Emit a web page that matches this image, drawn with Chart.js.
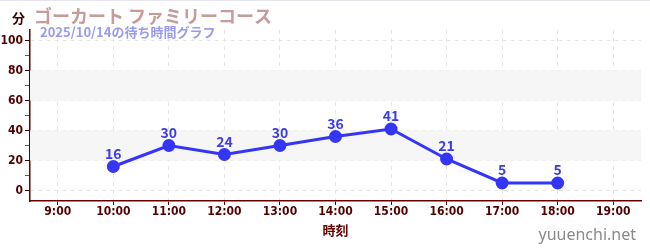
<!DOCTYPE html>
<html>
<head>
<meta charset="utf-8">
<script src="https://cdn.jsdelivr.net/npm/chart.js@4"></script>
<style>
  body { margin: 0; background: #fff; }
  #wrap { width: 650px; height: 250px; position: relative; border-top: 1px solid #e4e4f4; box-sizing: border-box; }
</style>
</head>
<body>
<div id="wrap"><canvas id="myChart"></canvas></div>
<script>
// Wait times (minutes) by hour of day
const hours = [10, 11, 12, 13, 14, 15, 16, 17, 18];
const waits = [16, 30, 24, 30, 36, 41, 21, 5, 5];
const hourTicks = [9, 10, 11, 12, 13, 14, 15, 16, 17, 18, 19];
const minuteTicks = [0, 10, 20, 30, 40, 50, 60, 70, 80, 90, 100];
const bands = [[20, 40], [60, 80]];
const chartTitle = 'ゴーカート ファミリーコース';
const chartSubtitle = '2025/10/14の待ち時間グラフ';
const yTitle = '分';
const xTitle = '時刻';
const watermark = 'yuuenchi.net';

const axisColor = '#660000';
const tickFont = { family: "'Liberation Sans Narrow', 'DejaVu Sans Condensed', sans-serif", size: 12, weight: 'bold' };

// light bands behind the line
const bandPlugin = {
    id: 'bands',
    beforeDatasetsDraw(chart) {
        const { ctx, chartArea, scales } = chart;
        ctx.save();
        ctx.fillStyle = '#f6f6f6';
        bands.forEach(b => {
            const y1 = scales.y.getPixelForValue(b[1]);
            const y0 = scales.y.getPixelForValue(b[0]);
            ctx.fillRect(chartArea.left, y1, chartArea.right - chartArea.left, y0 - y1);
        });
        ctx.restore();
    }
};

// titles, value labels and watermark
const textPlugin = {
    id: 'texts',
    afterDatasetsDraw(chart) {
        const ctx = chart.ctx;
        const meta = chart.getDatasetMeta(0);
        ctx.save();
        ctx.font = "bold 14px 'Noto Sans CJK JP', sans-serif";
        ctx.fillStyle = '#3d3de8';
        ctx.textAlign = 'center';
        ctx.textBaseline = 'bottom';
        meta.data.forEach((pt, i) => {
            ctx.fillText(waits[i], pt.x, pt.y - 6);
        });
        ctx.restore();
    },
    afterDraw(chart) {
        const ctx = chart.ctx;
        ctx.save();
        ctx.textBaseline = 'alphabetic';
        ctx.textAlign = 'left';
        ctx.font = "bold 13px 'Noto Sans CJK JP', sans-serif";
        ctx.fillStyle = '#440000';
        ctx.fillText(yTitle, 12, 22);
        ctx.font = "bold 18px 'Noto Sans CJK JP', sans-serif";
        ctx.fillStyle = '#c89a9a';
        ctx.fillText(chartTitle, 34, 22);
        ctx.font = "bold 13px 'Noto Sans CJK JP', sans-serif";
        ctx.fillStyle = '#9a9af2';
        ctx.fillText(chartSubtitle, 40, 36);
        ctx.font = "bold 13px 'Noto Sans CJK JP', sans-serif";
        ctx.fillStyle = axisColor;
        ctx.textAlign = 'center';
        ctx.fillText(xTitle, (chart.chartArea.left + chart.chartArea.right) / 2, 234);
        ctx.font = "16px 'Noto Sans', sans-serif";
        ctx.fillStyle = '#8a8a8a';
        ctx.textAlign = 'right';
        ctx.fillText(watermark, 636, 239);
        ctx.restore();
    }
};

let ctx = document.getElementById('myChart').getContext('2d');
let myChart = new Chart(ctx, {
    type: 'line',
    data: {
        datasets: [{
            data: hours.map((h, i) => ({ x: h, y: waits[i] })),
            borderColor: '#3535f5',
            backgroundColor: '#3535f5',
            borderWidth: 3,
            pointRadius: 5,
            pointHoverRadius: 5,
            fill: false,
            tension: 0
        }]
    },
    options: {
        responsive: true,
        maintainAspectRatio: false,
        animation: false,
        layout: { padding: { top: 29, right: 9, bottom: 0, left: 0 } },
        plugins: {
            legend: { display: false },
            tooltip: { enabled: false }
        },
        scales: {
            x: {
                type: 'linear',
                min: 8.5,
                max: 19.5,
                afterBuildTicks: scale => { scale.ticks = hourTicks.map(v => ({ value: v })); },
                afterFit: scale => { scale.height = 49; },
                ticks: {
                    color: '#550000',
                    font: tickFont,
                    padding: 0,
                    maxRotation: 0,
                    autoSkip: false,
                    callback: v => v + ':00'
                },
                grid: {
                    color: '#e6e6e6',
                    tickColor: axisColor,
                    tickLength: 4
                },
                border: { color: axisColor, width: 1.5, dash: [4, 4] }
            },
            y: {
                min: -7,
                max: 107,
                afterBuildTicks: scale => { scale.ticks = minuteTicks.map(v => ({ value: v })); },
                afterFit: scale => { scale.width = 30; },
                ticks: {
                    color: '#550000',
                    font: tickFont,
                    padding: 2,
                    autoSkip: false,
                    callback: v => (v % 20 === 0 ? v : '')
                },
                grid: {
                    color: ctx => (ctx.tick && ctx.tick.value % 20 === 0 ? '#e6e6e6' : 'rgba(0,0,0,0)'),
                    tickColor: ctx => (ctx.tick && ctx.tick.value % 20 === 0 ? '#330000' : '#dd2222'),
                    tickLength: 5
                },
                border: { color: axisColor, width: 1.5, dash: [4, 4] }
            }
        }
    },
    plugins: [bandPlugin, textPlugin]
});
</script>
</body>
</html>
